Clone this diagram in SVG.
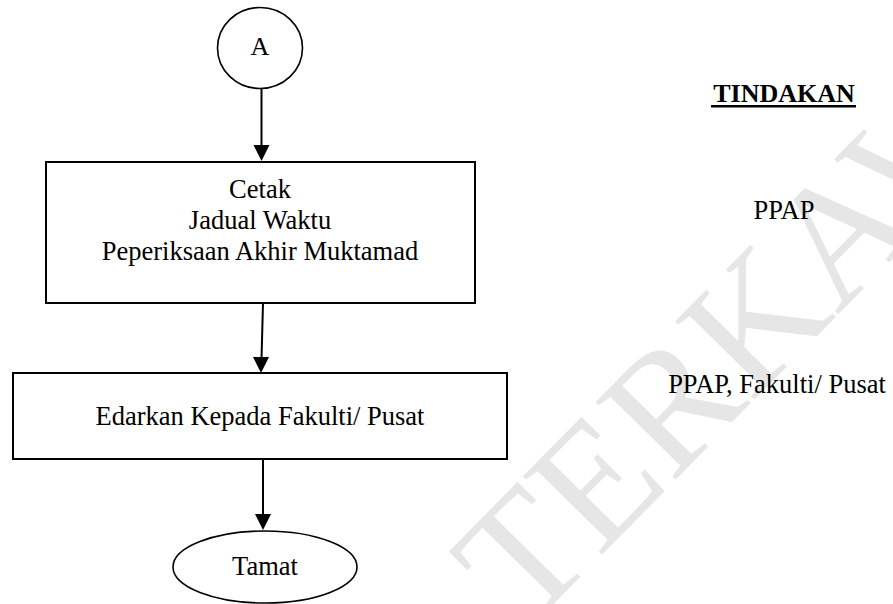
<svg xmlns="http://www.w3.org/2000/svg" width="893" height="604" viewBox="0 0 893 604">
<style>
text{font-family:"Liberation Serif","Times New Roman",serif;fill:#000}
.t{font-size:26.5px}
.shape{fill:#fff;stroke:#000;stroke-width:2}
.ell{fill:#fff;stroke:#000;stroke-width:1.6}
.conn line{stroke:#000;stroke-width:2}
.conn path{fill:#000}
.wm{font-size:170px;fill:#e6e6e6}
</style>
<rect width="893" height="604" fill="#fff"/>
<text class="wm" transform="translate(526,632) rotate(-45.5)">TERKAWAL</text>
<g class="conn">
<line x1="261.5" y1="89" x2="261.5" y2="147"/>
<path d="M253.5,145 L261.5,161 L269.5,145 z"/>
<line x1="263" y1="303" x2="261.5" y2="359"/>
<path d="M253,357 L261,373 L269,357 z"/>
<line x1="263" y1="459" x2="263" y2="516"/>
<path d="M255,514 L263,530 L271,514 z"/>
</g>
<g id="nodeA">
<ellipse class="ell" cx="260" cy="48" rx="42.5" ry="40.5"/>
<text x="260" y="55" font-size="26" text-anchor="middle">A</text>
</g>
<g id="nodeCetak">
<rect class="shape" x="46" y="162" width="429" height="141"/>
<text class="t" text-anchor="middle"><tspan x="260" y="198">Cetak</tspan><tspan x="260" y="229">Jadual Waktu</tspan><tspan x="260" y="260">Peperiksaan Akhir Muktamad</tspan></text>
</g>
<g id="nodeEdarkan">
<rect class="shape" x="13" y="373" width="494" height="86"/>
<text class="t" x="260" y="425" text-anchor="middle">Edarkan Kepada Fakulti/ Pusat</text>
</g>
<g id="nodeTamat">
<ellipse class="ell" cx="265" cy="567" rx="92" ry="36"/>
<text class="t" x="265" y="575" text-anchor="middle">Tamat</text>
</g>
<g id="tindakan">
<text x="784" y="102" font-size="26" font-weight="bold" text-anchor="middle">TINDAKAN</text>
<rect x="711" y="105" width="145" height="2.5" fill="#000"/>
<text class="t" x="784" y="219" text-anchor="middle">PPAP</text>
<text class="t" x="777" y="393" text-anchor="middle">PPAP, Fakulti/ Pusat</text>
</g>
</svg>
